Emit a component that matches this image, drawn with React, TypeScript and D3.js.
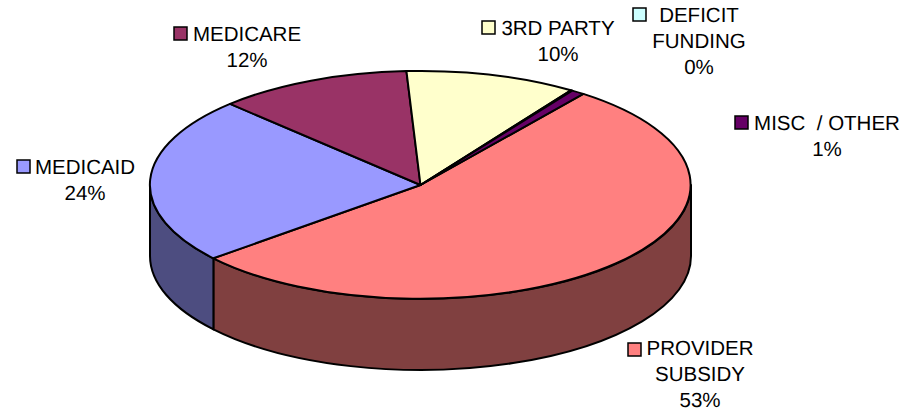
import React from "react";
import * as d3 from "d3";

const categories = ["PROVIDER SUBSIDY", "MEDICAID", "MEDICARE", "3RD PARTY", "DEFICIT FUNDING", "MISC / OTHER"];
const shares = [53.6, 23.7, 11.6, 10.2, 0.1, 0.8];
const percentLabels = ["53%", "24%", "12%", "10%", "0%", "1%"];
const topColors = ["#FF8080", "#9999FF", "#993366", "#FFFFCC", "#CCFFFF", "#660066"];
const sideColors = ["#804040", "#4D4D80", "#4D1A33", "#808066", "#668080", "#330033"];

// label lines, anchor = text centre x / first baseline y, swatch = left x
const labelLines = [["PROVIDER", "SUBSIDY"], ["MEDICAID"], ["MEDICARE"], ["3RD PARTY"], ["DEFICIT", "FUNDING"], ["MISC  / OTHER"]];
const labelX = [700, 85, 247, 558, 699, 827];
const labelY = [354.6, 174, 41, 35, 22, 130];
const swatchX = [628, 17, 174, 482, 633, 735];
const swatchY = [343, 160, 27, 21, 8, 116];

const width = 922;
const height = 411;
const depth = 71;
const font = "'Liberation Sans', Arial, sans-serif";

const x = d3.scaleLinear().domain([-1, 1]).range([150, 691]);
const y = d3.scaleLinear().domain([1, -1]).range([71, 299]);
const rx = (x(1) - x(-1)) / 2;
const ry = (y(-1) - y(1)) / 2;

const startAngle = (37 * Math.PI) / 180;
const pie = d3
  .pie<number>()
  .sort(null)
  .startAngle(startAngle)
  .endAngle(startAngle + 2 * Math.PI);
const slices = pie(shares);

// unit arc, the group around it squashes it into the ellipse
const unitArc = d3.arc<d3.PieArcDatum<number>>().innerRadius(0).outerRadius(1);

function px(a: number) {
  return x(Math.sin(a));
}
function py(a: number) {
  return y(Math.cos(a));
}

// wall of a slice, only the part facing the viewer (90deg to 270deg)
function wallPath(a0: number, a1: number) {
  const from = Math.max(a0, Math.PI / 2);
  const to = Math.min(a1, (3 * Math.PI) / 2);
  if (to <= from) return null;
  return [
    `M${px(from)},${py(from)}`,
    `A${rx},${ry} 0 0 1 ${px(to)},${py(to)}`,
    `L${px(to)},${py(to) + depth}`,
    `A${rx},${ry} 0 0 0 ${px(from)},${py(from) + depth}`,
    "Z",
  ].join(" ");
}

export default function App() {
  return (
    <svg
      width={width}
      height={height}
      style={{ position: "absolute", left: 0, top: 0, background: "#fff" }}
    >
      <g stroke="#000" strokeWidth={2} strokeLinejoin="round">
        {slices.map((s, i) => {
          const d = wallPath(s.startAngle, s.endAngle);
          return d ? <path key={i} d={d} fill={sideColors[i]} /> : null;
        })}
      </g>
      <g transform={`translate(${x(0)},${y(0)}) scale(${rx},${ry})`}>
        {slices.map((s, i) => (
          <path
            key={i}
            d={unitArc(s) as string}
            fill={topColors[i]}
            stroke="#000"
            strokeWidth={2}
            strokeLinejoin="round"
            vectorEffect="non-scaling-stroke"
          />
        ))}
      </g>
      <g fontFamily={font} fontSize={20.5} fill="#000" textAnchor="middle" textRendering="geometricPrecision">
        {categories.map((c, i) => {
          const lines = [...labelLines[i], percentLabels[i]];
          return (
            <g key={c}>
              <rect
                x={swatchX[i]}
                y={swatchY[i]}
                width={13}
                height={13}
                fill={topColors[i]}
                stroke="#000"
                strokeWidth={1.5}
              />
              {lines.map((t, j) => (
                <text key={j} x={labelX[i]} y={labelY[i] + j * 26} xmlSpace="preserve">
                  {t}
                </text>
              ))}
            </g>
          );
        })}
      </g>
    </svg>
  );
}
